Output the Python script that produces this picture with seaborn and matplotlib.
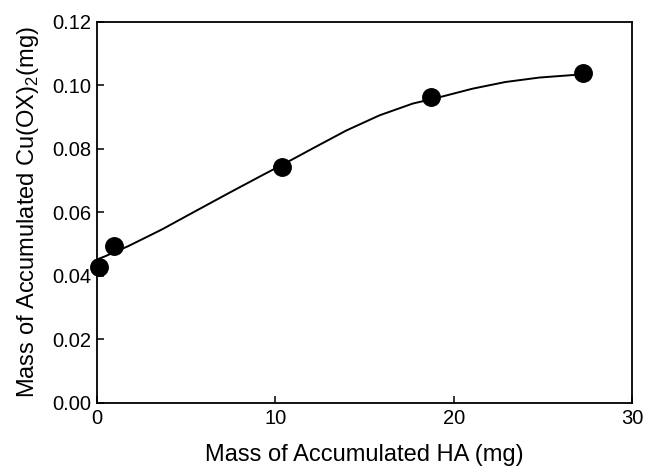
import matplotlib
matplotlib.use("Agg")
import matplotlib.pyplot as plt
import seaborn as sns
import pandas as pd

# measured points
ha_mass = [0.1, 0.95, 10.35, 18.7, 27.25]
cu_mass = [0.0429, 0.0495, 0.0744, 0.0963, 0.1038]

# smooth fitted curve
curve_x = [0, 0.45, 1.75, 3.62, 5.48, 7.35, 9.22, 10.24, 11.08, 12.1, 13.97, 15.84,
           17.7, 19.2, 21.06, 22.9, 24.8, 26.7, 27.3]
curve_y = [0.0452, 0.0462, 0.0494, 0.0546, 0.0603, 0.0660, 0.0716, 0.0746, 0.0771,
           0.0802, 0.0858, 0.0906, 0.0943, 0.0963, 0.0990, 0.1011, 0.1025, 0.1033, 0.1036]

x_ticks = [0, 10, 20, 30]
y_ticks = [0.00, 0.02, 0.04, 0.06, 0.08, 0.10, 0.12]

sns.set_theme(style="ticks")
plt.rcParams['font.family'] = ['Liberation Sans', 'DejaVu Sans']
plt.rcParams['mathtext.fontset'] = 'custom'
plt.rcParams['mathtext.rm'] = 'Liberation Sans'

pts = pd.DataFrame({"x": ha_mass, "y": cu_mass})
crv = pd.DataFrame({"x": curve_x, "y": curve_y})

fig = plt.figure(figsize=(6.46, 4.70), dpi=100)
ax = fig.add_axes([0.1502, 0.1426, 0.8282, 0.8106])

sns.lineplot(data=crv, x="x", y="y", ax=ax, color="black", linewidth=1.4, sort=False)
sns.scatterplot(data=pts, x="x", y="y", ax=ax, color="black", s=185, edgecolor="black",
                linewidth=0, zorder=5, clip_on=False)

ax.set_xlim(0, 30)
ax.set_ylim(0, 0.12)
ax.set_xticks(x_ticks)
ax.set_yticks(y_ticks)
ax.set_xticklabels([str(t) for t in x_ticks])
ax.set_yticklabels([f"{t:.2f}" for t in y_ticks])
ax.tick_params(direction="in", length=5, width=1.1, labelsize=14.5, colors="black",
               top=False, right=False, pad=4)
for sp in ax.spines.values():
    sp.set_visible(True)
    sp.set_linewidth(1.3)
    sp.set_color("black")

ax.set_xlabel("Mass of Accumulated HA (mg)", fontsize=17, labelpad=12, color="black")
ax.set_ylabel(r"Mass of Accumulated Cu(OX)$_\mathregular{2}$(mg)", fontsize=17,
              labelpad=8, color="black")

fig.savefig("out.png", dpi=100)
